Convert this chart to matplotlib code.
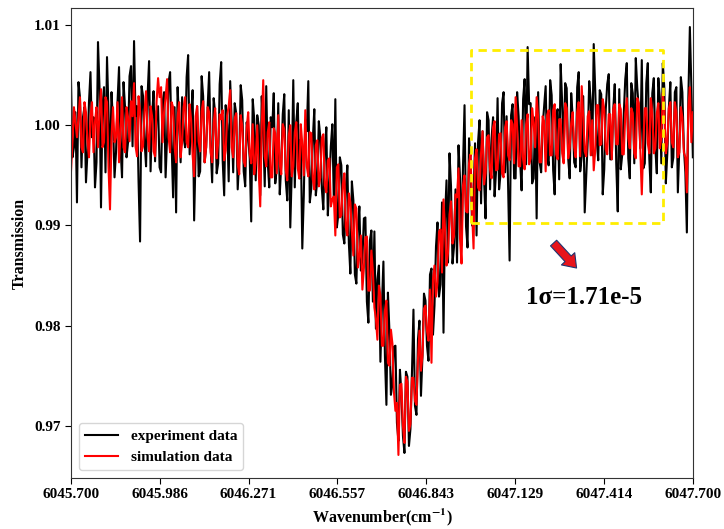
import numpy as np
import matplotlib
matplotlib.use('Agg')
import matplotlib.pyplot as plt

# Wavenumber range covered by the scan (cm^-1)
wn_start = 6045.700
wn_stop = 6047.700

experiment = [
    1.0048, 0.9968, 0.9978, 1.0013, 0.9923, 1.0043, 1.0028, 0.9958, 1.0008, 1.0018,
    0.9943, 0.9973, 1.0023, 1.0053, 0.9988, 1.0008, 0.9938, 0.9963, 1.0083, 1.0038,
    0.9918, 1.0018, 1.0038, 0.9953, 1.0068, 1.0013, 0.9953, 1.0033, 1.0003, 0.9948,
    0.9973, 1.0023, 1.0058, 0.9978, 0.9948, 1.0043, 1.0018, 0.9968, 0.9983, 1.0049,
    1.0059, 0.9979, 1.0084, 1.0009, 1.0019, 0.9944, 0.9884, 1.0039, 1.0029, 0.9984,
    0.9959, 1.0029, 1.0064, 0.9954, 1.0009, 1.0034, 0.9964, 1.0014, 1.0019, 0.9958,
    0.9953, 1.0023, 1.0033, 0.9948, 0.9988, 1.0043, 1.0053, 0.9983, 0.9928, 1.0018,
    0.9913, 1.0038, 1.0003, 0.9963, 1.0028, 0.9988, 0.9978, 1.0048, 1.0070, 0.9971,
    1.0010, 1.0035, 0.9905, 0.9974, 1.0019, 0.9949, 0.9954, 1.0049, 1.0029, 0.9963,
    0.9978, 1.0018, 1.0053, 0.9978, 0.9943, 1.0027, 1.0012, 0.9952, 0.9962, 1.0041,
    1.0063, 0.9965, 0.9930, 1.0020, 1.0000, 0.9944, 1.0044, 1.0003, 0.9953, 1.0022,
    1.0012, 0.9936, 0.9966, 1.0040, 1.0025, 0.9954, 0.9939, 1.0003, 0.9988, 0.9967,
    0.9904, 1.0026, 1.0006, 0.9945, 1.0010, 1.0000, 0.9930, 1.0029, 0.9994, 0.9939,
    1.0039, 0.9963, 0.9938, 1.0008, 0.9998, 1.0032, 0.9942, 0.9957, 1.0022, 0.9931,
    0.9961, 1.0011, 1.0031, 0.9945, 0.9925, 1.0015, 0.9898, 0.9954, 1.0045, 0.9938,
    1.0003, 1.0022, 0.9947, 0.9986, 0.9877, 0.9930, 1.0005, 0.9994, 1.0044, 0.9923,
    0.9937, 0.9986, 1.0016, 0.9930, 0.9945, 1.0004, 0.9988, 0.9937, 0.9916, 0.9975,
    0.9998, 0.9910, 0.9942, 0.9979, 1.0001, 0.9924, 1.0026, 0.9898, 0.9911, 0.9968,
    0.9960, 0.9891, 0.9882, 0.9938, 0.9960, 0.9882, 0.9852, 0.9944, 0.9925, 0.9851,
    0.9842, 0.9898, 0.9919, 0.9855, 0.9866, 0.9907, 0.9908, 0.9824, 0.9803, 0.9885,
    0.9895, 0.9824, 0.9894, 0.9797, 0.9846, 0.9860, 0.9764, 0.9820, 0.9864, 0.9770,
    0.9721, 0.9833, 0.9795, 0.9731, 0.9742, 0.9779, 0.9780, 0.9703, 0.9685, 0.9756,
    0.9732, 0.9690, 0.9673, 0.9754, 0.9749, 0.9680, 0.9697, 0.9753, 0.9816, 0.9720,
    0.9711, 0.9786, 0.9805, 0.9730, 0.9770, 0.9832, 0.9825, 0.9780, 0.9765, 0.9851,
    0.9857, 0.9791, 0.9820, 0.9879, 0.9903, 0.9829, 0.9841, 0.9923, 0.9793, 0.9907,
    0.9945, 0.9863, 0.9972, 0.9939, 0.9862, 0.9879, 0.9936, 0.9863, 0.9980, 0.9947,
    0.9880, 0.9960, 1.0020, 0.9899, 0.9878, 0.9987, 0.9966, 0.9900, 0.9929, 0.9982,
    0.9890, 0.9983, 1.0005, 0.9922, 0.9994, 0.9946, 0.9907, 1.0013, 1.0005, 0.9936,
    0.9987, 1.0008, 0.9929, 0.9955, 1.0027, 0.9936, 0.9952, 1.0022, 1.0033, 0.9953,
    1.0009, 0.9940, 0.9865, 1.0010, 1.0021, 0.9947, 0.9947, 1.0033, 1.0009, 0.9964,
    0.9935, 1.0026, 1.0046, 0.9961, 1.0078, 1.0021, 1.0022, 0.9942, 0.9947, 1.0008,
    0.9907, 1.0033, 0.9963, 0.9953, 0.9999, 1.0019, 1.0039, 0.9970, 0.9960, 1.0045,
    1.0030, 0.9955, 0.9931, 1.0011, 1.0016, 0.9946, 1.0061, 1.0022, 0.9972, 1.0042,
    1.0037, 0.9967, 0.9947, 1.0032, 1.0008, 0.9963, 0.9958, 1.0038, 1.0053, 0.9954,
    0.9969, 1.0029, 0.9913, 0.9949, 0.9984, 1.0044, 1.0025, 0.9970, 1.0081, 1.0035,
    0.9985, 0.9965, 1.0035, 1.0031, 0.9931, 0.9956, 1.0016, 1.0041, 1.0051, 0.9966,
    0.9966, 1.0016, 1.0041, 0.9961, 0.9914, 1.0036, 0.9956, 0.9971, 1.0011, 1.0046,
    1.0062, 0.9967, 0.9947, 1.0042, 1.0032, 0.9962, 1.0067, 1.0037, 1.0017, 0.9977,
    1.0065, 0.9957, 0.9962, 1.0042, 1.0062, 0.9967, 0.9933, 1.0032, 1.0047, 0.9977,
    0.9952, 1.0047, 1.0027, 0.9962, 1.0062, 1.0037, 0.9942, 0.9972, 1.0017, 1.0043,
    0.9958, 0.9968, 1.0033, 1.0038, 0.9933, 0.9978, 1.0048, 1.0033, 0.9978, 0.9953,
    0.9893, 1.0028, 1.0098, 1.0038, 0.9968,
]

# Simulated transmission (red trace)
simulation = [
    0.9953, 0.9983, 1.0018, 1.0003, 0.9988, 1.0008, 1.0028, 0.9978, 0.9973, 1.0023,
    1.0013, 0.9983, 0.9968, 1.0008, 1.0023, 0.9973, 1.0003, 1.0018, 0.9978, 1.0013,
    1.0036, 0.9978, 0.9983, 1.0028, 1.0023, 0.9958, 0.9916, 0.9988, 1.0018, 0.9983,
    0.9988, 1.0023, 0.9963, 0.9993, 1.0028, 0.9978, 0.9973, 1.0018, 1.0008, 0.9984,
    1.0024, 1.0009, 1.0042, 0.9979, 0.9969, 1.0029, 1.0014, 0.9974, 0.9979, 1.0014,
    1.0034, 0.9989, 0.9974, 1.0019, 1.0009, 0.9974, 0.9969, 1.0024, 1.0047, 1.0028,
    1.0038, 0.9983, 1.0013, 1.0028, 1.0046, 0.9988, 0.9973, 1.0023, 1.0018, 0.9978,
    0.9963, 1.0008, 1.0023, 0.9968, 0.9983, 1.0018, 1.0028, 0.9983, 0.9978, 1.0021,
    1.0005, 0.9970, 0.9949, 1.0009, 1.0019, 0.9984, 0.9974, 1.0014, 1.0024, 0.9963,
    0.9978, 1.0018, 1.0013, 0.9973, 0.9963, 1.0002, 1.0017, 0.9967, 0.9982, 1.0011,
    1.0006, 1.0015, 0.9965, 0.9975, 1.0010, 1.0019, 1.0035, 0.9978, 0.9968, 1.0007,
    1.0012, 0.9961, 0.9951, 1.0010, 1.0000, 0.9964, 0.9959, 0.9998, 1.0013, 0.9972,
    0.9962, 1.0001, 0.9951, 0.9965, 1.0000, 0.9955, 0.9919, 0.9999, 1.0045, 0.9969,
    0.9959, 0.9993, 1.0003, 0.9948, 0.9948, 0.9997, 0.9992, 0.9952, 1.0010, 0.9961,
    0.9951, 1.0001, 0.9996, 0.9955, 0.9945, 0.9990, 1.0000, 0.9949, 0.9959, 0.9993,
    1.0003, 0.9957, 0.9947, 1.0001, 0.9981, 0.9950, 1.0015, 0.9959, 0.9949, 0.9993,
    0.9992, 0.9946, 0.9936, 0.9980, 0.9985, 0.9939, 0.9948, 0.9987, 0.9991, 0.9940,
    0.9933, 0.9965, 0.9967, 0.9919, 0.9926, 0.9929, 0.9890, 0.9958, 0.9961, 0.9908,
    0.9910, 0.9941, 0.9952, 0.9898, 0.9890, 0.9932, 0.9923, 0.9894, 0.9870, 0.9921,
    0.9917, 0.9858, 0.9869, 0.9890, 0.9836, 0.9857, 0.9888, 0.9889, 0.9835, 0.9835,
    0.9875, 0.9854, 0.9818, 0.9807, 0.9786, 0.9840, 0.9830, 0.9780, 0.9780, 0.9815,
    0.9825, 0.9763, 0.9760, 0.9796, 0.9782, 0.9734, 0.9715, 0.9723, 0.9671, 0.9741,
    0.9742, 0.9700, 0.9683, 0.9749, 0.9744, 0.9695, 0.9702, 0.9748, 0.9748, 0.9725,
    0.9721, 0.9766, 0.9795, 0.9755, 0.9770, 0.9817, 0.9820, 0.9795, 0.9785, 0.9836,
    0.9763, 0.9846, 0.9860, 0.9829, 0.9843, 0.9894, 0.9896, 0.9853, 0.9926, 0.9897,
    0.9860, 0.9873, 0.9911, 0.9924, 0.9882, 0.9889, 0.9931, 0.9928, 0.9957, 0.9887,
    0.9862, 0.9940, 0.9950, 0.9914, 0.9913, 0.9962, 0.9971, 0.9915, 0.9877, 0.9967,
    0.9976, 0.9938, 0.9935, 0.9972, 0.9994, 0.9941, 0.9952, 0.9988, 0.9990, 0.9956,
    0.9947, 0.9998, 1.0004, 0.9955, 0.9956, 0.9991, 0.9992, 0.9952, 0.9948, 0.9998,
    1.0004, 0.9970, 0.9965, 1.0005, 1.0001, 0.9962, 1.0028, 0.9998, 0.9959, 0.9959,
    1.0005, 0.9966, 0.9956, 1.0001, 1.0011, 0.9961, 0.9967, 1.0017, 1.0002, 0.9978,
    1.0028, 1.0008, 0.9963, 0.9963, 1.0009, 1.0004, 0.9954, 1.0010, 1.0015, 0.9970,
    0.9970, 1.0015, 1.0021, 0.9971, 0.9966, 1.0006, 1.0006, 0.9972, 0.9962, 1.0022,
    1.0017, 0.9967, 0.9977, 1.0002, 1.0013, 0.9978, 0.9968, 1.0013, 1.0023, 0.9969,
    1.0039, 1.0009, 0.9974, 0.9969, 1.0009, 1.0014, 0.9970, 1.0005, 0.9955, 0.9975,
    1.0020, 1.0020, 0.9980, 0.9981, 1.0026, 1.0016, 0.9976, 0.9971, 1.0011, 1.0011,
    0.9966, 1.0016, 1.0021, 0.9981, 0.9981, 1.0021, 1.0016, 0.9971, 0.9971, 1.0011,
    1.0027, 0.9987, 0.9977, 1.0017, 1.0012, 0.9972, 0.9967, 1.0027, 1.0022, 0.9977,
    0.9931, 0.9982, 1.0017, 1.0017, 0.9982, 0.9972, 1.0027, 1.0012, 0.9972, 0.9977,
    1.0012, 1.0022, 0.9977, 0.9987, 1.0032, 1.0017, 0.9972, 0.9982, 1.0017, 1.0023,
    0.9983, 0.9978, 1.0023, 1.0013, 0.9968, 0.9973, 1.0018, 1.0008, 0.9973, 0.9968,
    0.9933, 1.0018, 1.0038, 0.9983, 1.0013,
]

xtick_vals = [6045.700, 6045.986, 6046.271, 6046.557, 6046.843, 6047.129, 6047.414, 6047.700]
ytick_vals = [0.97, 0.98, 0.99, 1.00, 1.01]

# region used for the noise estimate
box_x = (6046.986, 6047.604)
box_y = (0.9902, 1.0075)
sigma_text = '1σ=1.71e-5'

plt.rcParams['font.family'] = ['Liberation Serif', 'DejaVu Serif']
plt.rcParams['font.weight'] = 'bold'
plt.rcParams['mathtext.fontset'] = 'stix'

wavenumber = np.linspace(wn_start, wn_stop, len(experiment))

fig = plt.figure(figsize=(7.24, 5.29), dpi=100)
ax = fig.add_axes([0.098, 0.0964, 0.859, 0.8885])

ax.plot(wavenumber, experiment, color='black', lw=1.5, label='experiment data')
ax.plot(wavenumber, simulation, color='red', lw=1.5, label='simulation data')

# yellow dashed box
bx = [box_x[0], box_x[1], box_x[1], box_x[0], box_x[0]]
by = [box_y[0], box_y[0], box_y[1], box_y[1], box_y[0]]
ax.plot(bx, by, color='#ffee00', lw=2, linestyle=(0, (3, 2)))

# arrow + noise level text
ax.annotate('', xy=(6047.332, 0.98555), xytext=(6047.246, 0.98845),
            arrowprops=dict(arrowstyle='simple,head_length=0.9,head_width=1.3,tail_width=0.6',
                            fc='#e8141b', ec='#1f3570', lw=0.8))
ax.text(6047.350, 0.9828, sigma_text, fontsize=18, fontweight='bold',
        ha='center', va='center')

ax.set_xlim(wn_start, wn_stop)
ax.set_ylim(0.9648, 1.0117)
ax.set_xticks(xtick_vals)
ax.set_xticklabels(['%.3f' % v for v in xtick_vals])
ax.set_yticks(ytick_vals)
ax.set_yticklabels(['%.2f' % v for v in ytick_vals])
ax.tick_params(labelsize=11, length=4)

ax.set_xlabel('Wavenumber(cm$^{\\mathbf{-1}}$)', fontsize=11.5, fontweight='bold', labelpad=4)
ax.set_ylabel('Transmission', fontsize=11.5, fontweight='bold')

for s in ax.spines.values():
    s.set_color('#333333')

ax.legend(loc='lower left', fontsize=11, handlelength=2.2)

fig.savefig('out.png', dpi=100)
